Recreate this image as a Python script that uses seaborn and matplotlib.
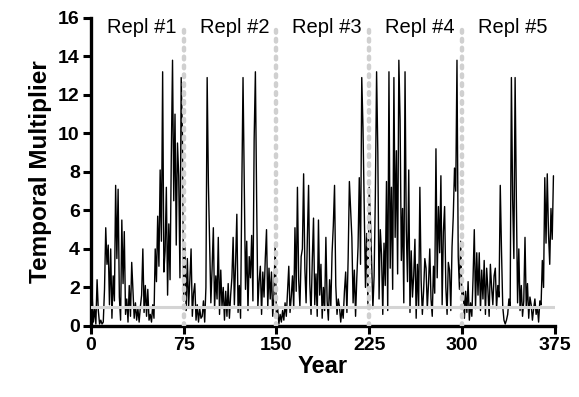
import matplotlib
matplotlib.use("Agg")
import matplotlib.pyplot as plt
import seaborn as sns
import numpy as np
import pandas as pd

# Temporal multiplier per year, one list per replicate (75 years each)
repl1 = [0.3, 1.6, 0.2, 0.9, 0.1, 2.4, 0.8, 0.1, 0.3, 0.1,
         0.2, 1.9, 5.1, 3.2, 4.2, 1.1, 4.0, 0.4, 2.6, 1.3,
         7.3, 3.5, 7.1, 1.5, 0.3, 5.5, 2.2, 4.9, 0.6, 1.4,
         0.2, 2.1, 0.5, 3.3, 1.8, 0.4, 1.2, 0.3, 0.9, 0.2,
         1.0, 1.6, 4.0, 0.7, 2.1, 0.5, 1.9, 0.3, 0.6, 0.2,
         1.1, 0.4, 4.0, 2.3, 5.7, 3.1, 8.1, 4.4, 13.2, 2.8,
         3.9, 7.2, 1.6, 5.3, 2.4, 8.8, 13.8, 6.5, 11.0, 4.2,
         9.5, 7.8, 2.5, 12.9, 10.0]
repl2 = [1.3, 4.1, 0.8, 3.5, 1.0, 2.4, 4.0, 0.5, 1.7, 2.2,
         0.3, 1.1, 0.2, 0.9, 0.4, 0.5, 1.3, 0.2, 2.0, 12.9,
         7.4, 4.3, 1.2, 3.0, 5.1, 0.9, 2.6, 1.4, 4.6, 0.6,
         2.9, 1.0, 2.0, 0.3, 1.8, 0.5, 2.2, 0.4, 1.6, 2.5,
         4.6, 1.1, 3.3, 5.8, 0.7, 2.1, 0.4, 7.0, 12.9, 7.6,
         1.9, 4.4, 0.8, 3.6, 2.5, 4.7, 1.3, 9.7, 13.2, 6.6,
         1.0, 2.3, 3.1, 0.6, 2.8, 1.5, 3.5, 5.0, 0.9, 3.0,
         1.4, 2.8, 0.5, 1.6, 4.3]
repl3 = [0.4, 0.9, 0.1, 0.6, 0.2, 0.8, 0.3, 1.2, 0.5, 1.8,
         3.1, 0.7, 1.5, 2.6, 0.9, 5.1, 1.8, 7.2, 2.4, 1.0,
         3.6, 4.0, 7.9, 3.0, 1.2, 4.5, 7.3, 2.2, 0.6, 3.4,
         5.6, 1.1, 2.7, 0.5, 5.5, 1.6, 3.2, 0.4, 2.0, 0.8,
         4.6, 1.3, 0.3, 2.4, 1.0, 3.8, 5.2, 7.3, 2.1, 0.6,
         1.4, 1.0, 0.2, 0.9, 0.4, 1.8, 2.8, 0.7, 3.5, 7.5,
         6.0, 4.6, 1.2, 2.9, 0.5, 2.5, 4.1, 7.7, 3.2, 12.9,
         10.3, 6.0, 2.0, 4.8, 1.1]
repl4 = [7.2, 5.5, 3.3, 0.9, 2.6, 6.8, 13.2, 9.0, 1.4, 5.0,
         3.7, 0.6, 4.3, 2.1, 7.5, 0.8, 13.2, 3.0, 7.2, 1.9,
         12.9, 4.6, 9.1, 2.7, 13.8, 10.7, 3.4, 6.1, 1.2, 13.2,
         5.0, 2.3, 8.1, 0.7, 3.9, 1.5, 2.6, 4.5, 0.4, 3.2,
         1.0, 7.2, 2.4, 0.6, 1.8, 3.5, 3.0, 0.9, 2.2, 4.0,
         1.4, 0.5, 3.1, 1.7, 9.2, 2.5, 6.2, 3.8, 7.8, 1.1,
         4.9, 6.2, 2.0, 0.6, 3.3, 2.9, 0.8, 4.1, 5.7, 8.2,
         7.0, 13.8, 3.6, 1.9, 4.4]
repl5 = [1.5, 2.0, 0.4, 1.8, 0.7, 2.3, 0.3, 1.2, 0.5, 2.5,
         5.0, 0.9, 3.8, 1.6, 3.8, 0.8, 2.9, 1.4, 3.4, 0.6,
         3.0, 1.9, 0.5, 3.2, 2.0, 1.1, 2.6, 3.0, 0.9, 2.1,
         1.5, 7.3, 3.9, 1.0, 0.3, 0.1, 0.3, 0.6, 1.4, 1.0,
         12.9, 6.6, 3.5, 12.9, 6.6, 1.2, 4.0, 0.8, 2.1, 0.5,
         1.3, 4.6, 1.0, 2.2, 0.4, 1.5, 1.1, 0.3, 0.9, 1.4,
         0.6, 1.0, 0.2, 1.3, 1.1, 3.4, 2.0, 7.7, 4.3, 7.9,
         4.8, 3.2, 6.1, 4.5, 7.8]

repl_labels = ["Repl #1", "Repl #2", "Repl #3", "Repl #4", "Repl #5"]
repl_starts = [0, 75, 150, 225, 300]
boundaries = [75, 150, 225, 300]
x_ticks = [0, 75, 150, 225, 300, 375]
y_ticks = [0, 2, 4, 6, 8, 10, 12, 14, 16]
reference_level = 1

values = repl1 + repl2 + repl3 + repl4 + repl5
df = pd.DataFrame({"Year": np.arange(len(values)), "Multiplier": values})

sns.set_theme(style="ticks")
plt.rcParams["font.family"] = ["Liberation Sans", "DejaVu Sans"]
plt.rcParams["text.color"] = "black"
plt.rcParams["axes.labelcolor"] = "black"

fig = plt.figure(figsize=(5.79, 3.97), dpi=100)
ax = fig.add_axes([0.157, 0.179, 0.801, 0.776])

sns.lineplot(data=df, x="Year", y="Multiplier", color="black",
             linewidth=1.0, ax=ax, zorder=2)

ax.axhline(reference_level, color="#d4d4d4", linewidth=2.2, zorder=3)
for b in boundaries:
    ax.vlines(b, 0, 15.4, colors="#d0d0d0", linewidth=3.2,
              linestyles=(0, (0.6, 1.4)), capstyle="round", zorder=3)

for lab, s in zip(repl_labels, repl_starts):
    ax.text(s + 41, 15.5, lab, ha="center", va="center",
            fontsize=14.5, color="black", zorder=4)

ax.set_xlim(0, 375)
ax.set_ylim(0, 16)
ax.set_xticks(x_ticks)
ax.set_yticks(y_ticks)
ax.set_xlabel("Year", fontsize=17, fontweight="bold", labelpad=1, color="black")
ax.set_ylabel("Temporal Multiplier", fontsize=17.5, fontweight="bold", labelpad=4, color="black")
for lbl in ax.get_xticklabels() + ax.get_yticklabels():
    lbl.set_fontweight("bold")
ax.tick_params(axis="both", labelsize=14, width=2.2, length=6,
               direction="out", color="black", labelcolor="black", pad=2)
for sp in ["left", "bottom"]:
    ax.spines[sp].set_linewidth(2.4)
    ax.spines[sp].set_color("black")
    ax.spines[sp].set_capstyle("projecting")
sns.despine(ax=ax)
ax.margins(0)

fig.savefig("out.png", dpi=100)
